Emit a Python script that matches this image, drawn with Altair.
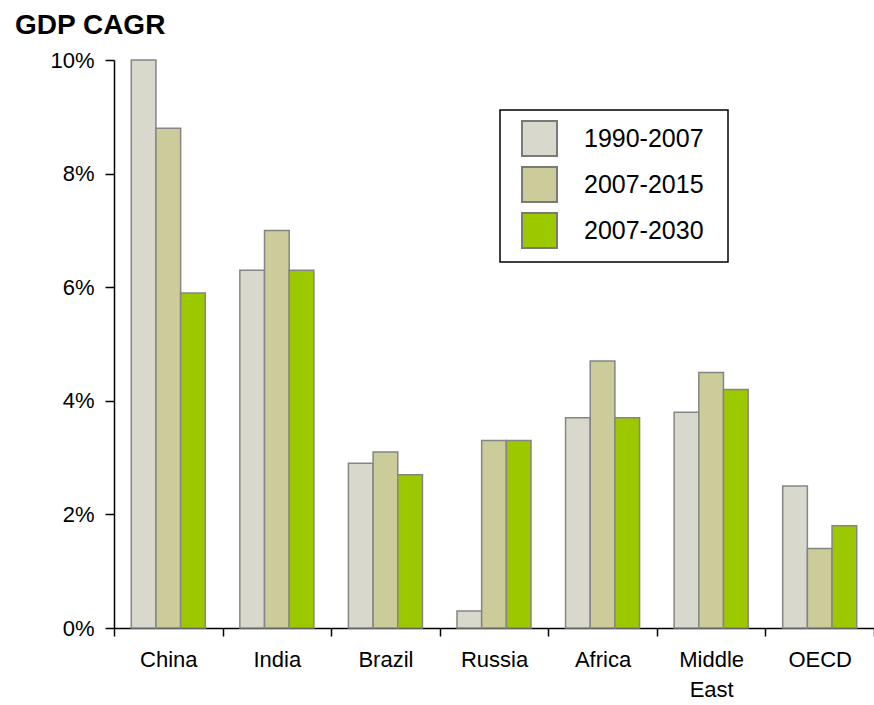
import altair as alt
import pandas as pd

regions = ["China", "India", "Brazil", "Russia", "Africa", "Middle East", "OECD"]
periods = ["1990-2007", "2007-2015", "2007-2030"]
v_1990_2007 = [10.0, 6.3, 2.9, 0.3, 3.7, 3.8, 2.5]
v_2007_2015 = [8.8, 7.0, 3.1, 3.3, 4.7, 4.5, 1.4]
v_2007_2030 = [5.9, 6.3, 2.7, 3.3, 3.7, 4.2, 1.8]
colors = ["#D8D9CC", "#CBCC9A", "#9CC800"]
y_ticks = [0, 0.02, 0.04, 0.06, 0.08, 0.10]

rows = []
for p, vals in zip(periods, [v_1990_2007, v_2007_2015, v_2007_2030]):
    for r, v in zip(regions, vals):
        rows.append({"region": r, "period": p, "value": v / 100})
df = pd.DataFrame(rows)

FONT = "Liberation Sans"

chart = alt.Chart(df).mark_bar(stroke="#858585", strokeWidth=1.5, opacity=1).encode(
    x=alt.X("region:N", sort=regions,
            scale=alt.Scale(paddingInner=0, paddingOuter=0),
            axis=alt.Axis(title=None, labelAngle=0, tickBand="extent",
                          domainColor="black", domainWidth=1.5,
                          tickColor="black", tickWidth=1.5, tickSize=8,
                          labelPadding=13, labelFontSize=22, labelFont=FONT,
                          labelColor="black", labelLineHeight=30,
                          labelExpr="datum.label == 'Middle East' ? ['Middle', 'East'] : datum.label")),
    xOffset=alt.XOffset("period:N", sort=periods,
                        scale=alt.Scale(paddingInner=0, paddingOuter=0.7)),
    y=alt.Y("value:Q",
            scale=alt.Scale(domain=[0, 0.1], nice=False),
            axis=alt.Axis(title=None, values=y_ticks, format=".0%", grid=False,
                          domainColor="black", domainWidth=1.5,
                          tickColor="black", tickWidth=1.5, tickSize=9,
                          labelPadding=11, labelFontSize=22, labelFont=FONT,
                          labelColor="black")),
    color=alt.Color("period:N", sort=periods,
                    scale=alt.Scale(domain=periods, range=colors),
                    legend=alt.Legend(title="\u00a0", titleOrient="right",
                                      titleFontSize=1, titlePadding=14,
                                      orient="none",
                                      legendX=386, legendY=50,
                                      symbolType="square", symbolSize=1225,
                                      symbolStrokeColor="#7a7a7a",
                                      symbolStrokeWidth=2, symbolOpacity=1,
                                      symbolOffset=11,
                                      labelFontSize=25, labelFont=FONT,
                                      labelColor="black", labelOffset=26,
                                      rowPadding=3, padding=10,
                                      strokeColor="black",
                                      fillColor="white")),
).properties(
    width=760,
    height=568,
    background="white",
    title=alt.TitleParams("GDP CAGR", anchor="start", dx=-35, dy=27, offset=14,
                          baseline="alphabetic", fontSize=28, font=FONT,
                          fontWeight="bold", color="black"),
    autosize=alt.AutoSizeParams(type="none"),
    padding={"left": 114, "top": 60, "right": 0, "bottom": 77},
).configure_view(stroke=None).configure_legend(strokeWidth=1.5)

chart.save("out.html", embed_options={"renderer": "svg", "actions": False})
